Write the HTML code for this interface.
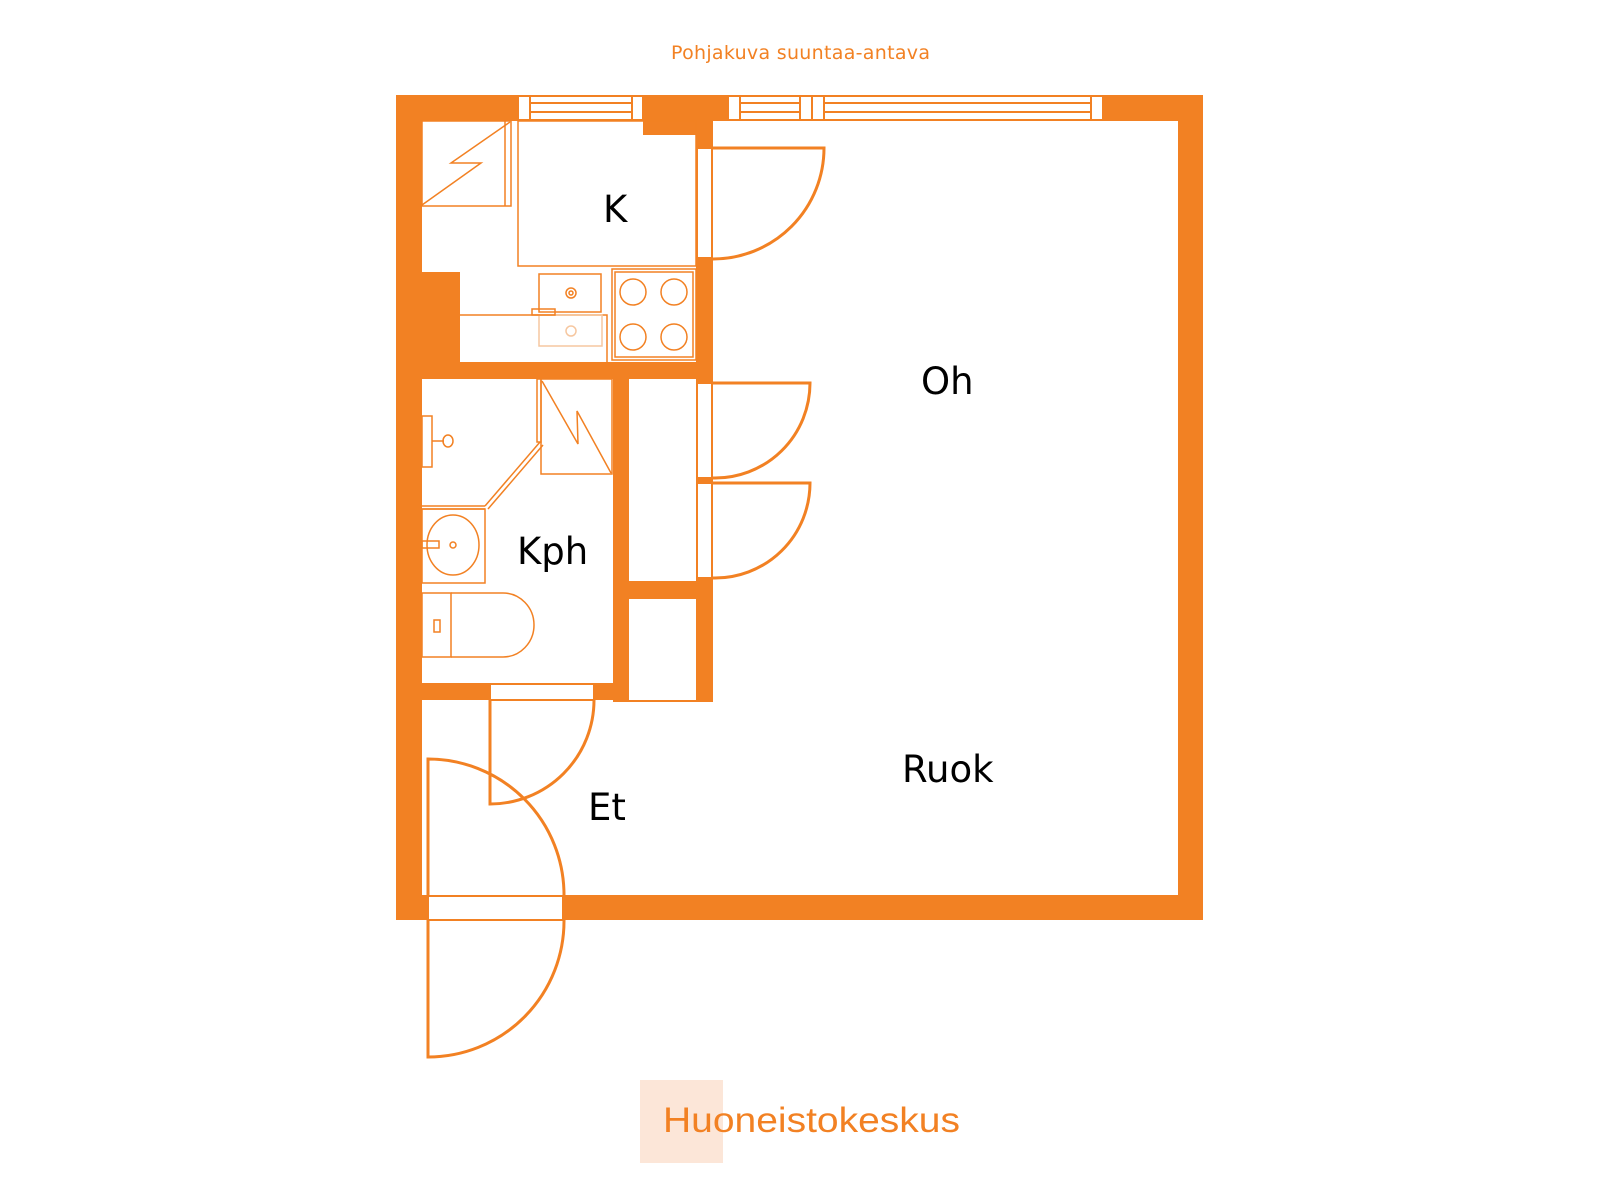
<!DOCTYPE html>
<html><head><meta charset="utf-8"><style>html,body{margin:0;padding:0;background:#fff}svg{display:block}</style></head><body>
<svg width="1600" height="1200" viewBox="0 0 1600 1200" xmlns="http://www.w3.org/2000/svg">
<g fill="#F28123">
<!-- outer walls -->
<rect x="396" y="95" width="807" height="26"/>
<rect x="396" y="95" width="26" height="825"/>
<rect x="1178" y="95" width="25" height="825"/>
<rect x="396" y="895" width="807" height="25"/>
<!-- kitchen block -->
<rect x="643" y="95" width="70" height="40"/>
<rect x="696" y="95" width="17" height="607"/>
<rect x="422" y="272" width="38" height="107"/>
<rect x="422" y="362" width="291" height="17"/>
<rect x="613" y="362" width="16" height="340"/>
<rect x="629" y="581" width="84" height="18"/>
<rect x="422" y="683" width="207" height="17"/>
</g>
<g fill="#fff" stroke="#F28123" stroke-width="2">
<!-- windows -->
<rect x="518" y="96" width="125" height="24"/>
<rect x="728" y="96" width="375" height="24"/>
<!-- door frames -->
<rect x="697" y="148" width="15" height="110"/>
<rect x="697" y="383" width="15" height="95"/>
<rect x="697" y="483" width="15" height="95"/>
<rect x="490" y="684" width="104" height="16"/>
<rect x="428" y="896" width="135" height="24"/>
</g>
<g fill="none" stroke="#F28123" stroke-width="2">
<line x1="530" y1="96" x2="530" y2="120"/><line x1="632" y1="96" x2="632" y2="120"/>
<line x1="530" y1="103" x2="632" y2="103"/><line x1="530" y1="112" x2="632" y2="112"/>
<line x1="740" y1="96" x2="740" y2="120"/><line x1="800" y1="96" x2="800" y2="120"/>
<line x1="812" y1="96" x2="812" y2="120"/><line x1="824" y1="96" x2="824" y2="120"/>
<line x1="1091" y1="96" x2="1091" y2="120"/>
<line x1="740" y1="103" x2="800" y2="103"/><line x1="740" y1="112" x2="800" y2="112"/>
<line x1="824" y1="103" x2="1091" y2="103"/><line x1="824" y1="112" x2="1091" y2="112"/>
<!-- doors -->
<path d="M713 148 H824 A111 111 0 0 1 713 259" stroke-width="3"/>
<path d="M713 383 H810 A95 95 0 0 1 713 478" stroke-width="3"/>
<path d="M713 483 H810 A95 95 0 0 1 713 578" stroke-width="3"/>
<path d="M594 700 A104 104 0 0 1 490 804 V700" stroke-width="3"/>
<path d="M428 895 V759 A136 136 0 0 1 564 895" stroke-width="3"/>
<path d="M428 920 V1057 A136 136 0 0 0 564 920" stroke-width="3"/>
<!-- closet bottom -->
<line x1="629" y1="701" x2="700" y2="701"/>
</g>
<g fill="none" stroke="#F28123" stroke-width="1.5">
<!-- kitchen -->
<rect x="518" y="121" width="178" height="145"/>
<rect x="422" y="121" width="89" height="85"/>
<line x1="505" y1="121" x2="505" y2="206"/>
<polyline points="422,205 481,163 451,163 510,122"/>
<polyline points="460,315 607,315 607,362"/>
<rect x="539" y="274" width="62" height="38"/>
<circle cx="571" cy="293" r="5"/><circle cx="571" cy="293" r="2"/>
<rect x="539" y="315" width="63" height="31" stroke="#f6c7a0"/>
<circle cx="571" cy="331" r="5" stroke="#f6c7a0"/>
<rect x="532" y="309" width="23" height="6"/>
<rect x="612" y="269" width="84" height="91"/>
<rect x="615" y="272" width="78" height="85"/>
<circle cx="633" cy="292" r="13"/><circle cx="674" cy="292" r="13"/>
<circle cx="633" cy="337" r="13"/><circle cx="674" cy="337" r="13"/>
<!-- bathroom -->
<rect x="537" y="379" width="4" height="63"/>
<polyline points="540,442 485,506"/><polyline points="543,445 488,509"/>
<line x1="422" y1="506" x2="485" y2="506"/><line x1="422" y1="509" x2="485" y2="509"/>
<rect x="541" y="379" width="71" height="95"/>
<polyline points="542,381 578,444 577,411 611,473"/>
<rect x="422" y="416" width="10" height="51"/>
<line x1="432" y1="441" x2="444" y2="441"/>
<ellipse cx="448" cy="441" rx="5" ry="6"/>
<rect x="422" y="509" width="63" height="74"/>
<ellipse cx="453" cy="545" rx="26" ry="30"/>
<rect x="422" y="541" width="17" height="7"/>
<circle cx="453" cy="545" r="3"/>
<rect x="422" y="593" width="29" height="64"/>
<path d="M451 593 H503 A31 32 0 0 1 503 657 H451"/>
<rect x="434" y="620" width="6" height="12"/>
</g>
<g font-family="'DejaVu Sans','Liberation Sans',sans-serif" fill="#000" font-size="37">
<text x="603" y="222">K</text>
<text x="921" y="394">Oh</text>
<text x="517" y="564">Kph</text>
<text x="588" y="820">Et</text>
<text x="902" y="782">Ruok</text>
</g>
<text x="671" y="59" font-family="'DejaVu Sans',sans-serif" font-size="19" fill="#F28123" textLength="259">Pohjakuva suuntaa-antava</text>
<rect x="640" y="1080" width="83" height="83" fill="#fce6d8"/>
<text x="663" y="1132" font-family="'Liberation Sans',sans-serif" font-size="35" fill="#F28123" textLength="297" lengthAdjust="spacingAndGlyphs">Huoneistokeskus</text>
</svg>
</body></html>
